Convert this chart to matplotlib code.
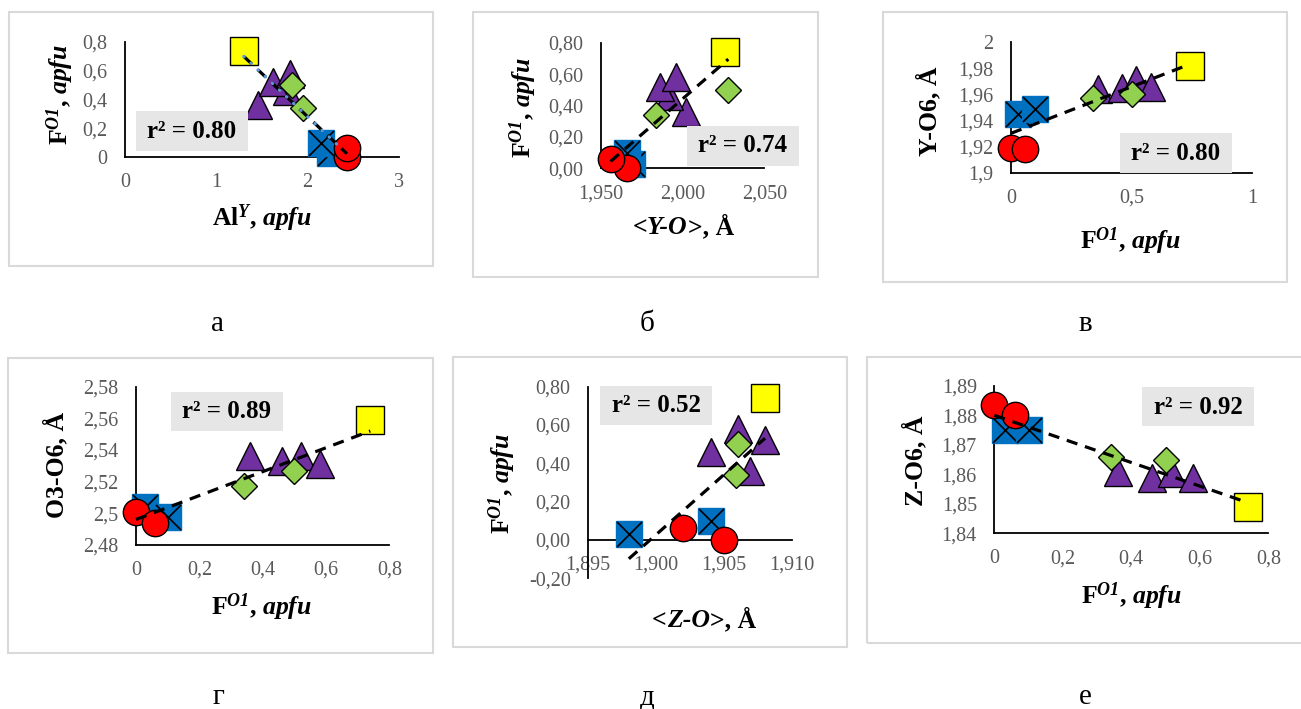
import numpy as np
import matplotlib.pyplot as plt
from matplotlib.patches import Rectangle
from matplotlib.offsetbox import TextArea, HPacker, AnnotationBbox

plt.rcParams['font.family'] = 'Liberation Serif'
plt.rcParams['mathtext.fontset'] = 'custom'
plt.rcParams['mathtext.rm'] = 'Liberation Serif'
plt.rcParams['mathtext.it'] = 'Liberation Serif:italic'
plt.rcParams['mathtext.bf'] = 'Liberation Serif:bold'
plt.rcParams['mathtext.bfit'] = 'Liberation Serif:italic:bold'

W, H = 1301, 709

# F(O1), apfu - same samples in every panel
f_tri = [0.36, 0.46, 0.52, 0.58]
f_dia = [0.34, 0.50]
f_yel = [0.74]
f_blu = [0.03, 0.10]
f_red = [0.00, 0.06]

# a: Al(Y), apfu
al_tri = [1.46, 1.77, 1.62, 1.81]
al_dia = [1.95, 1.83]
al_yel = [1.30]
al_blu = [2.24, 2.15]
al_red = [2.43, 2.43]

# б: <Y-O>, Å
yo_tri = [2.002, 1.992, 1.986, 1.996]
yo_dia = [1.984, 2.028]
yo_yel = [2.026]
yo_blu = [1.969, 1.966]
yo_red = [1.966, 1.956]

# в: Y-O6, Å
yo6_tri = [1.964, 1.965, 1.971, 1.966]
yo6_dia = [1.957, 1.960]
yo6_yel = [1.982]
yo6_blu = [1.945, 1.949]
yo6_red = [1.919, 1.918]

# г: O3-O6, Å
o3o6_tri = [2.536, 2.533, 2.536, 2.531]
o3o6_dia = [2.517, 2.527]
o3o6_yel = [2.559]
o3o6_blu = [2.504, 2.498]
o3o6_red = [2.501, 2.494]

# д: <Z-O>, Å
zo_tri = [1.9069, 1.9040, 1.9080, 1.9060]
zo_dia = [1.9059, 1.9060]
zo_yel = [1.9080]
zo_blu = [1.8980, 1.9040]
zo_red = [1.9050, 1.9020]

# е: Z-O6, Å
zo6_tri = [1.8608, 1.8588, 1.8605, 1.8586]
zo6_dia = [1.866, 1.865]
zo6_yel = [1.849]
zo6_blu = [1.875, 1.875]
zo6_red = [1.8835, 1.880]

r2 = ['0.80', '0.74', '0.80', '0.89', '0.52', '0.92']
letters = ['а', 'б', 'в', 'г', 'д', 'е']

fig = plt.figure(figsize=(W / 100, H / 100), dpi=100)

F_LAB = r'$\mathbf{F}^{\mathbfit{O1}}\mathbf{,}\ \mathbfit{apfu}$'
GRAY = '#595959'
LAB_FS = 18.5


def fx(x):
    return x / W


def fy(y):
    return 1 - y / H


def frame(x0, y0, x1, y1):
    fig.add_artist(Rectangle((fx(x0), fy(y1)), fx(x1 - x0), (y1 - y0) / H,
                             transform=fig.transFigure, fill=False,
                             edgecolor='#D9D9D9', lw=1.5))


def r2box(cx, cy, txt):
    w, h = 112, 39
    fig.add_artist(Rectangle((fx(cx - w / 2), fy(cy + h / 2)), w / W, h / H,
                             transform=fig.transFigure, facecolor='#E7E6E6',
                             edgecolor='none'))
    fig.text(fx(cx), fy(cy), 'r² = ' + txt, ha='center', va='center',
             fontsize=18, fontweight='bold')


def mixed_label(cx, cy, parts):
    # parts: (text, style) pieces set side by side, all bold
    boxes = [TextArea(t, textprops=dict(fontsize=LAB_FS, fontweight='bold',
                                        fontstyle=s, family='Liberation Serif'))
             for t, s in parts]
    pack = HPacker(children=boxes, pad=0, sep=0, align='baseline')
    fig.add_artist(AnnotationBbox(pack, (fx(cx), fy(cy)),
                                  xycoords='figure fraction', frameon=False,
                                  pad=0, box_alignment=(0.5, 0.5)))


def panel(box, xlim, ylim, xticks, yticks, xlabs, ylabs):
    x0, x1, y0, y1 = box
    ax = fig.add_axes([fx(x0), fy(y1), (x1 - x0) / W, (y1 - y0) / H])
    ax.patch.set_alpha(0)
    ax.set_xlim(xlim)
    ax.set_ylim(ylim)
    ax.set_xticks(xticks, xlabs)
    ax.set_yticks(yticks, ylabs)
    ax.spines[['top', 'right']].set_visible(False)
    ax.spines[['left', 'bottom']].set_linewidth(1.3)
    ax.tick_params(length=0, labelsize=14.5, labelcolor=GRAY)
    ax.tick_params(axis='x', pad=11.5)
    ax.tick_params(axis='y', pad=12.5)
    return ax


def points(ax, xs, ys):
    tri, dia, yel, blu, red = zip(xs, ys)
    ax.plot(*tri, ls='none', marker='^', ms=19.5, mfc='#7030A0', mec='black',
            mew=1, clip_on=False, zorder=3)
    ax.plot(*dia, ls='none', marker='D', ms=13, mfc='#92D050', mec='black',
            mew=1, clip_on=False, zorder=3)
    ax.plot(*yel, ls='none', marker='s', ms=19.5, mfc='#FFFF00', mec='black',
            mew=1, clip_on=False, zorder=3)
    for x, y in zip(*blu):
        ax.plot(x, y, marker='s', ms=19, mfc='#0070C0', mec='#0070C0',
                clip_on=False, zorder=3)
        ax.plot(x, y, marker='x', ms=18, mec='black', mew=1.2,
                clip_on=False, zorder=3)
    ax.plot(*red, ls='none', marker='o', ms=19, mfc='#FF0000', mec='black',
            mew=1, clip_on=False, zorder=3)


def trend(ax, xs, ys):
    x = np.concatenate(xs)
    y = np.concatenate(ys)
    k, b = np.polyfit(x, y, 1)
    xx = np.array([x.min(), x.max()])
    ax.plot(xx, k * xx + b, color='black', lw=2.3, dashes=(3.5, 2.5),
            clip_on=False, zorder=5)
    return k, b


F = [f_tri, f_dia, f_yel, f_blu, f_red]

# a
ax = panel((125, 399, 42, 157), (0, 3), (0, 0.8), [0, 1, 2, 3],
           [0, 0.2, 0.4, 0.6, 0.8], ['0', '1', '2', '3'],
           ['0', '0,2', '0,4', '0,6', '0,8'])
AL = [al_tri, al_dia, al_yel, al_blu, al_red]
points(ax, AL, F)
k, b = trend(ax, AL, F)
xx = np.array([1.30, 2.36])
ax.plot(xx, k * xx + b, color='#5B9BD5', lw=2.2, ls=(0, (0.2, 3)),
        dash_capstyle='round', zorder=6)

# б
ax = panel((600.7, 764.3, 42.7, 168.3), (1.95, 2.05), (0, 0.8),
           [1.95, 2.0, 2.05], [0, 0.2, 0.4, 0.6, 0.8],
           ['1,950', '2,000', '2,050'],
           ['0,00', '0,20', '0,40', '0,60', '0,80'])
YO = [yo_tri, yo_dia, yo_yel, yo_blu, yo_red]
points(ax, YO, F)
trend(ax, YO, F)

# в
ax = panel((1011, 1252.3, 42.3, 172.7), (0, 1), (1.9, 2.0), [0, 0.5, 1],
           [1.9, 1.92, 1.94, 1.96, 1.98, 2.0], ['0', '0,5', '1'],
           ['1,9', '1,92', '1,94', '1,96', '1,98', '2'])
YO6 = [yo6_tri, yo6_dia, yo6_yel, yo6_blu, yo6_red]
points(ax, F, YO6)
trend(ax, F, YO6)

# г
ax = panel((136, 389.3, 386.7, 545), (0, 0.8), (2.48, 2.58),
           [0, 0.2, 0.4, 0.6, 0.8], [2.48, 2.5, 2.52, 2.54, 2.56, 2.58],
           ['0', '0,2', '0,4', '0,6', '0,8'],
           ['2,48', '2,5', '2,52', '2,54', '2,56', '2,58'])
O3 = [o3o6_tri, o3o6_dia, o3o6_yel, o3o6_blu, o3o6_red]
points(ax, F, O3)
trend(ax, F, O3)

# д
ax = panel((588, 792.3, 386.7, 578.3), (1.895, 1.910), (-0.2, 0.8),
           [1.895, 1.900, 1.905, 1.910], [-0.2, 0, 0.2, 0.4, 0.6, 0.8],
           ['1,895', '1,900', '1,905', '1,910'],
           ['-0,20', '0,00', '0,20', '0,40', '0,60', '0,80'])
ax.spines['bottom'].set_position(('data', 0))
ZO = [zo_tri, zo_dia, zo_yel, zo_blu, zo_red]
points(ax, ZO, F)
trend(ax, ZO, F)

# е
ax = panel((994.3, 1268.3, 385.7, 533.3), (0, 0.8), (1.84, 1.89),
           [0, 0.2, 0.4, 0.6, 0.8], [1.84, 1.85, 1.86, 1.87, 1.88, 1.89],
           ['0', '0,2', '0,4', '0,6', '0,8'],
           ['1,84', '1,85', '1,86', '1,87', '1,88', '1,89'])
ZO6 = [zo6_tri, zo6_dia, zo6_yel, zo6_blu, zo6_red]
points(ax, F, ZO6)
trend(ax, F, ZO6)

# frames
frame(9, 12, 433, 266)
frame(473, 12, 818, 277)
frame(883, 12, 1287, 282)
frame(8, 358, 433, 653)
frame(453, 357, 847, 647)
frame(867, 357, 1303, 643)

# axis titles
lab = dict(fontsize=LAB_FS, ha='center', va='center')
fig.text(fx(262), fy(218), r'$\mathbf{Al}^{\mathbfit{Y}}\mathbf{,}\ \mathbfit{apfu}$', **lab)
fig.text(fx(60), fy(94), F_LAB, rotation=90, **lab)
mixed_label(683, 227, [('<', 'normal'), ('Y-O', 'italic'), ('>, Å', 'normal')])
fig.text(fx(523), fy(107), F_LAB, rotation=90, **lab)
fig.text(fx(1131), fy(241), F_LAB, **lab)
fig.text(fx(929), fy(111), 'Y-O6, Å', rotation=90, fontweight='bold', **lab)
fig.text(fx(262), fy(607), F_LAB, **lab)
fig.text(fx(56), fy(465), 'O3-O6, Å', rotation=90, fontweight='bold', **lab)
mixed_label(704, 620, [('<', 'normal'), ('Z-O', 'italic'), ('>, Å', 'normal')])
fig.text(fx(502), fy(483), F_LAB, rotation=90, **lab)
fig.text(fx(1132), fy(596), F_LAB, **lab)
fig.text(fx(915), fy(461), 'Z-O6, Å', rotation=90, fontweight='bold', **lab)

# r² boxes
for (cx, cy), t in zip([(192, 131), (743, 146), (1176, 153),
                        (227, 411), (656, 406), (1198, 407)], r2):
    r2box(cx, cy, t)

# panel letters
for (cx, by), t in zip([(217, 331), (647, 331), (1085, 331),
                        (218, 704), (647, 704), (1085, 704)], letters):
    fig.text(fx(cx), fy(by), t, ha='center', va='baseline', fontsize=21)

fig.savefig('out.png', dpi=100)
